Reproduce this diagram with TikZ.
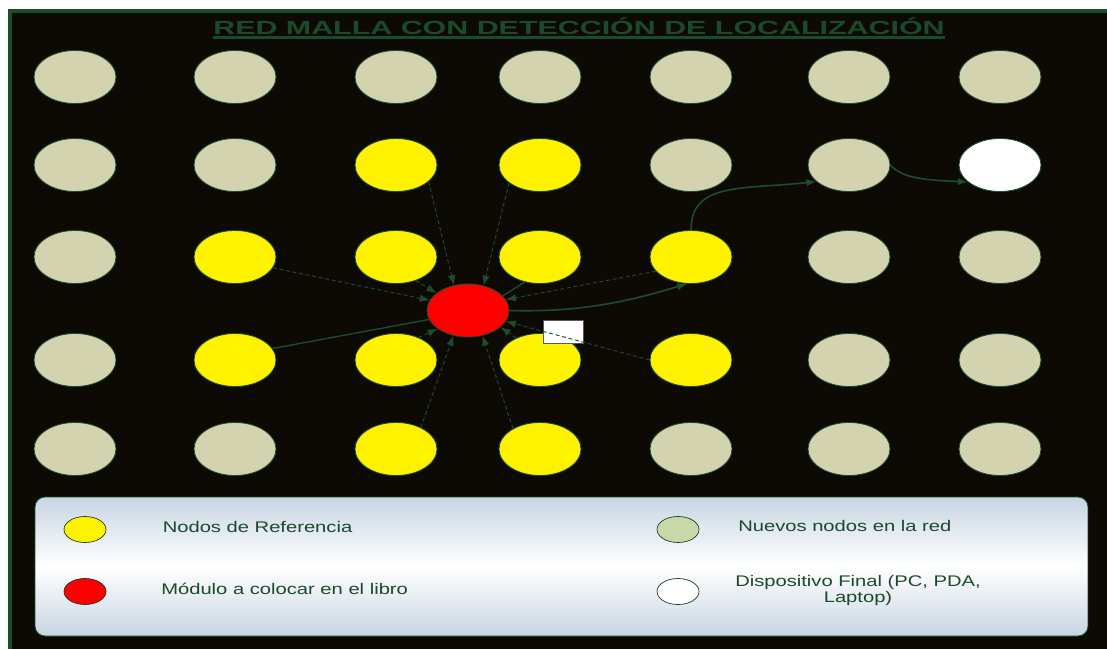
\documentclass[tikz,border=0pt]{standalone}
\usepackage{fontspec}
\usepackage{graphicx}
\setmainfont{Liberation Sans}
\usetikzlibrary{shapes.geometric,arrows.meta}
\definecolor{bgdark}{HTML}{0D0A06}
\definecolor{dgreen}{HTML}{1E4D2B}
\definecolor{nodegray}{HTML}{D3D3AF}
\definecolor{legtop}{HTML}{C8D5E3}
\definecolor{leggreen}{HTML}{C8D8A8}
\definecolor{txtgreen}{HTML}{1B4A2A}
\begin{document}
\begin{tikzpicture}[x=0.75pt,y=-0.75pt,
  mnode/.style={ellipse, draw=dgreen, line width=0.6pt, minimum width=61.5pt, minimum height=39.75pt, inner sep=0pt},
  graynode/.style={mnode, fill=nodegray},
  yellownode/.style={mnode, fill=yellow},
  rednode/.style={mnode, fill=red},
  whitenode/.style={mnode, fill=white},
  lgnode/.style={ellipse, draw=dgreen!70!black, line width=0.5pt, minimum width=31.5pt, minimum height=19.5pt, inner sep=0pt},
  dedge/.style={draw=dgreen, line width=0.7pt, dash pattern=on 3pt off 2pt, -{Latex[length=7.5pt,width=5.5pt]}},
  sedge/.style={draw=dgreen, line width=1.2pt, -{Latex[length=7.5pt,width=5.5pt]}},
  sline/.style={draw=dgreen, line width=1pt},
  legtext/.style={text=txtgreen, inner sep=0pt, font=\fontsize{11.55pt}{12.2pt}\selectfont},
]
\useasboundingbox (0,0) rectangle (1107,649);
\clip (0,0) rectangle (1107,649);
\fill[white] (0,0) rectangle (1107,649);
\draw[fill=bgdark, draw=dgreen, line width=2.5pt] (10,11) rectangle (1125,665);

% title
\node[inner sep=0pt, anchor=base, text=txtgreen, font=\fontsize{14.25pt}{16pt}\selectfont\bfseries] (title) at (579,34.3)
  {\scalebox{1.6}[1]{RED MALLA CON DETECCIÓN DE LOCALIZACIÓN}};
\draw[txtgreen, line width=1.6pt] ([yshift=-2.4pt]title.base west) -- ([yshift=-2.4pt]title.base east);

% grid nodes
\foreach \n/\x/\y in {11/75/77, 21/235/77, 31/396/77, 41/540/77, 51/691/77, 61/849/77, 71/1000/77,
                      12/75/165, 22/235/165, 52/691/165, 62/849/165,
                      13/75/257, 63/849/257, 73/1000/257,
                      14/75/360, 64/849/360, 74/1000/360,
                      15/75/449, 25/235/449, 55/691/449, 65/849/449, 75/1000/449}
  \node[graynode] (n\n) at (\x,\y) {};
\foreach \n/\x/\y in {32/396/165, 42/540/165,
                      23/235/257, 33/396/257, 43/540/257, 53/691/257,
                      24/235/360, 34/396/360, 44/540/360, 54/691/360,
                      35/396/449, 45/540/449}
  \node[yellownode] (n\n) at (\x,\y) {};
\node[whitenode] (n72) at (1000,165) {};
\node[rednode] (red) at (468,310.5) {};

% small white box
\node[draw=gray!70!black, fill=white, line width=0.4pt, minimum width=30pt, minimum height=17.25pt, inner sep=0pt] (lbl) at (563,331.5) {};

% edges to the red module
\draw[dedge] (n32.333) -- (red.119);
\draw[dedge] (n42.210) -- (red.58);
\draw[dedge] (n23.344) -- (red.165);
\draw[dedge] (n33.310) -- (red.151);
\draw[sline] (n43.239) -- (red.23);
\draw[dedge] (n53.202) -- (red.16);
\draw[sline] (n24.17) -- (red.193);
\draw[dedge] (n34.45) -- (red.211);
\draw[dedge] (n44.137) -- (red.333);
\draw[dedge] (n54.west) -- (red.344);
\draw[dedge] (n35.41) -- (red.240);
\draw[dedge] (n45.143) -- (red.300);
% route to the final device
\draw[sedge] (red.east) .. controls +(70,2) and +(-60,18) .. (n53.262);
\draw[sedge] (n53.north) .. controls +(0,-48) and +(-75,8) .. (n62.207);
\draw[sedge] (n62.east) .. controls +(12,14) and +(-40,-2) .. (n72.208);

% legend
\node[rounded corners=7.5pt, draw=dgreen, line width=0.6pt, top color=legtop, bottom color=legtop, middle color=white,
      minimum width=789.75pt, minimum height=104.25pt, inner sep=0pt] (legend) at (561.5,566.5) {};
\node[lgnode, fill=yellow] (ly) at (85,529.5) {};
\node[lgnode, fill=red] (lr) at (85,591.5) {};
\node[lgnode, fill=leggreen] (lg) at (678,529.5) {};
\node[lgnode, fill=white] (lw) at (678,591.5) {};
\node[legtext, anchor=base west] (ty) at (162.5,532.5) {\scalebox{1.31}[1]{Nodos de Referencia}};
\node[legtext, anchor=base west] (tr) at (161,594) {\scalebox{1.31}[1]{Módulo a colocar en el libro}};
\node[legtext, anchor=base west] (tg) at (738,531.7) {\scalebox{1.31}[1]{Nuevos nodos en la red}};
\node[legtext, anchor=base] (tw) at (858,586.7) {\scalebox{1.31}[1]{\begin{tabular}[t]{@{}c@{}}Dispositivo Final (PC, PDA,\\Laptop)\end{tabular}}};
\end{tikzpicture}
\end{document}
